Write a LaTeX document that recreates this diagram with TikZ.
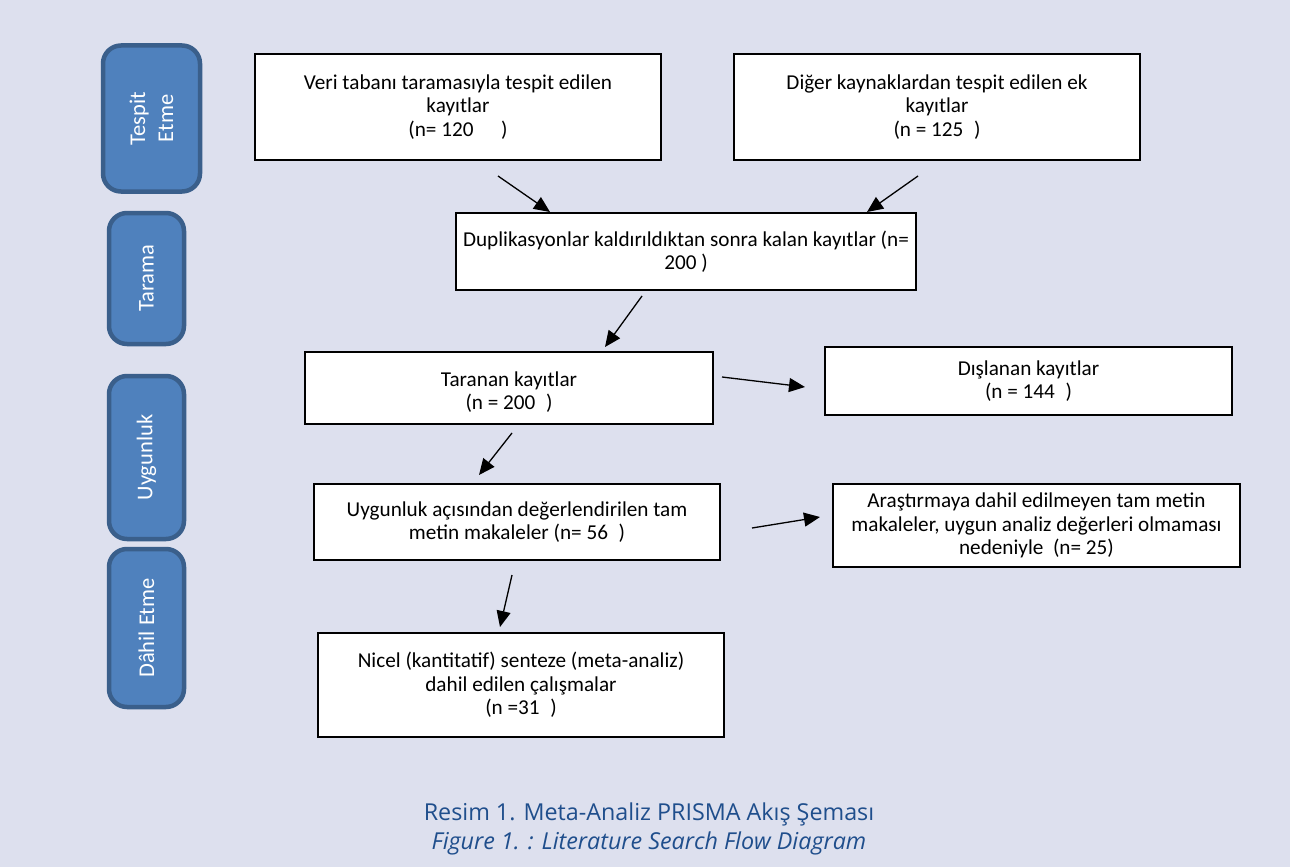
\documentclass[tikz,border=0pt]{standalone}
\usepackage{fontspec}
\setmainfont{Carlito}
\newfontfamily\capfont{Open Sans}
\usetikzlibrary{arrows.meta}
\definecolor{bg}{HTML}{DDE0EE}
\definecolor{phasefill}{HTML}{4F81BD}
\definecolor{phasedraw}{HTML}{3A5F8B}
\definecolor{capblue}{HTML}{1F4E8C}
\begin{document}
\begin{tikzpicture}[x=1pt,y=-1pt,
  box/.style={draw=black, line width=1.8pt, fill=white, align=center,
    font=\fontsize{21.2}{23.5}\selectfont, inner sep=0pt},
  boxtext/.style={align=center, font=\fontsize{21.2}{23.5}\selectfont, inner sep=0pt},
  phase/.style={draw=phasedraw, fill=phasefill, line width=4.5pt,
    rounded corners=18pt, text=white, align=center, rotate=90,
    font=\fontsize{22.5}{28}\selectfont, inner sep=0pt},
  arr/.style={-{Triangle[length=16pt,width=14pt]}, line width=1.3pt},
  captext/.style={text=capblue, font=\capfont\fontsize{23.3}{28}\selectfont}]
\path[fill=bg] (0,0) rectangle (1290,867);
% phase boxes
\node[phase, minimum width=146pt, minimum height=97pt] (p1) at (151.5,118.5) {Tespit\\Etme};
\node[phase, minimum width=131pt, minimum height=75pt] (p2) at (146.5,278.5) {Tarama};
\node[phase, minimum width=163pt, minimum height=75pt] (p3) at (146.5,457.5) {Uygunluk};
\node[phase, minimum width=158pt, minimum height=75pt] (p4) at (146.5,628) {Dâhil Etme};
% flow boxes
\node[box, minimum width=406pt, minimum height=106pt] (a) at (458,107)
  {Veri tabanı taramasıyla tespit edilen\\kayıtlar\\(n= 120\hspace{1.3em})};
\node[box, minimum width=406pt, minimum height=106pt] (b) at (937,107)
  {Diğer kaynaklardan tespit edilen ek\\kayıtlar\\(n = 125\hspace{0.5em})};
\node[box, minimum width=460pt, minimum height=77pt] (c) at (686,251.5)
  {Duplikasyonlar kaldırıldıktan sonra kalan kayıtlar (n=\\200 )};
\node[box, minimum width=408pt, minimum height=72pt] (d) at (509,388) {};
\node[boxtext] (dt) at (509,392) {Taranan kayıtlar\\(n = 200\hspace{0.5em})};
\node[box, minimum width=407pt, minimum height=68pt] (e) at (1028.5,381)
  {Dışlanan kayıtlar\\(n = 144\hspace{0.5em})};
\node[box, minimum width=406pt, minimum height=76pt] (f) at (517,522)
  {Uygunluk açısından değerlendirilen tam\\metin makaleler (n= 56\hspace{0.5em})};
\node[box, minimum width=407pt, minimum height=83pt] (g) at (1036.5,525.5)
  {Araştırmaya dahil edilmeyen tam metin\\makaleler, uygun analiz değerleri olmaması\\nedeniyle\ \ (n= 25)};
\node[box, minimum width=406pt, minimum height=104pt] (h) at (521,685)
  {Nicel (kantitatif) senteze (meta-analiz)\\dahil edilen çalışmalar\\(n =31\hspace{0.5em})};
% arrows
\coordinate (s1) at (498,176); \coordinate (e1) at (550,212);
\coordinate (s2) at (918,176); \coordinate (e2) at (867,212);
\coordinate (s3) at (642,296); \coordinate (e3) at (605,347);
\coordinate (s4) at (722,377); \coordinate (e4) at (805,387);
\coordinate (s5) at (512,433); \coordinate (e5) at (479,475);
\coordinate (s6) at (752,528); \coordinate (e6) at (820,517);
\coordinate (s7) at (512,575); \coordinate (e7) at (500,627);
\draw[arr] (s1) -- (e1);
\draw[arr] (s2) -- (e2);
\draw[arr] (s3) -- (e3);
\draw[arr] (s4) -- (e4);
\draw[arr] (s5) -- (e5);
\draw[arr] (s6) -- (e6);
\draw[arr] (s7) -- (e7);
% caption
\node[captext] (cap1) at (649,814) {Resim 1. Meta-Analiz PRISMA Akış Şeması};
\node[captext] (cap2) at (649,843) {\itshape Figure 1. : Literature Search Flow Diagram};
\end{tikzpicture}
\end{document}
